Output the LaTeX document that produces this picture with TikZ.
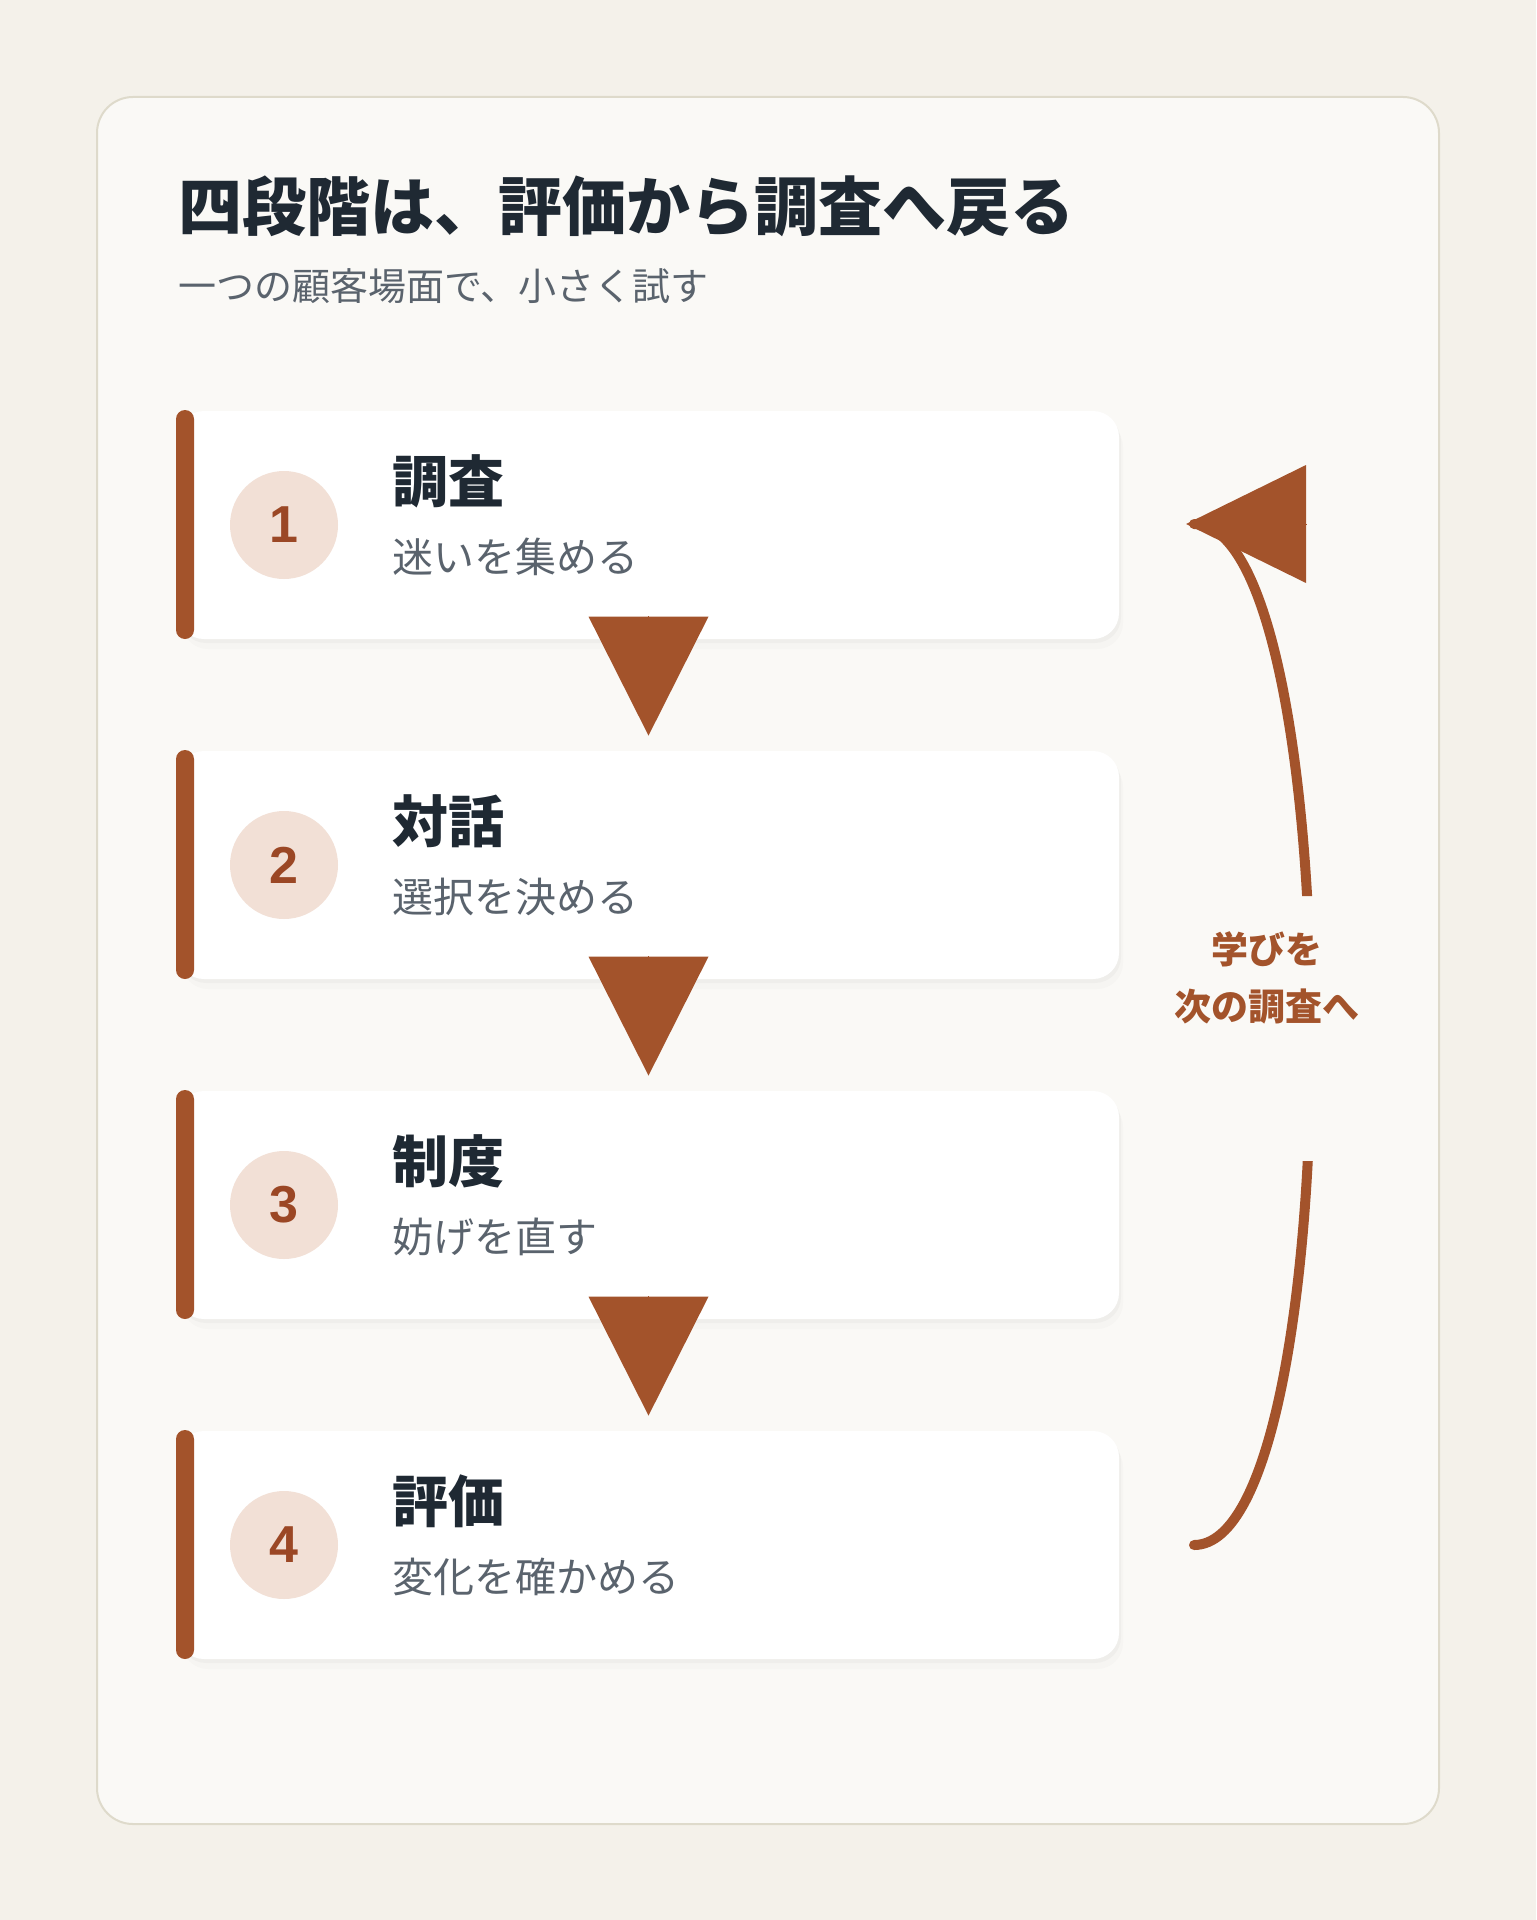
\documentclass[tikz,border=0pt]{standalone}
\usepackage{fontspec}
\setmainfont{Noto Sans CJK JP}
\newfontfamily\numfont{Liberation Sans}
\usepackage{tikz}
\usetikzlibrary{arrows.meta, shadows, positioning}
\definecolor{pagebg}{HTML}{F4F1EA}
\definecolor{cardbg}{HTML}{FAF9F6}
\definecolor{cardline}{HTML}{DEDACB}
\definecolor{accent}{HTML}{A3532B}
\definecolor{numfill}{HTML}{F2E0D6}
\definecolor{numink}{HTML}{9B4725}
\definecolor{ink}{HTML}{1F2933}
\definecolor{muted}{HTML}{5A636D}
\tikzset{
    panel/.style ={draw=cardline, line width=1pt, fill=cardbg, rounded corners=18pt},
    stepcard/.style ={rectangle, fill=white, rounded corners=13pt, inner sep=0pt,
        minimum width=470.5pt, minimum height=114pt,
        drop shadow={shadow xshift=1pt, shadow yshift=-2pt, opacity=.05},
        drop shadow={shadow xshift=2pt, shadow yshift=-5pt, opacity=.03}},
    stepbar/.style ={rectangle, fill=accent, rounded corners=4.5pt, inner sep=0pt,
        minimum width=9pt, minimum height=114.5pt},
    stepnum/.style ={circle, fill=numfill, minimum size=54pt, inner sep=0pt,
        text=numink, font=\numfont\bfseries\fontsize{26}{26}\selectfont},
    stephead/.style ={anchor=west, inner sep=0pt, text=ink,
        font=\bfseries\fontsize{28}{28}\selectfont},
    steptext/.style ={anchor=west, inner sep=0pt, text=muted,
        font=\fontsize{20.5}{20.5}\selectfont},
    flowarrow/.style ={line width=0pt, accent, -{Triangle[length=59.5pt, width=60pt]}},
    backline/.style ={draw=accent, line width=5pt, line cap=round},
    backtip/.style ={line width=0pt, accent, -{Triangle[length=60pt, width=59pt]}},
    backlabel/.style ={align=center, inner sep=0pt, text=accent,
        font=\bfseries\fontsize{18.5}{28.5}\selectfont}
    }

\begin{document}
\begin{tikzpicture}[
      x = 0.5pt, y = -0.5pt, % one unit = one pixel of the 1536x1920 frame
      auto
    ]
    \useasboundingbox (0,0) rectangle (1536,1920);
    \fill[pagebg] (0,0) rectangle (1536,1920);
    \draw[panel] (97,97) rectangle (1439,1824);

    \node[anchor=west, inner sep=0pt, text=ink, font=\bfseries\fontsize{32}{32}\selectfont]
        (title) at (178,206) {四段階は、評価から調査へ戻る};
    \node[anchor=west, inner sep=0pt, text=muted, font=\fontsize{19}{19}\selectfont]
        (subtitle) at (178,286) {一つの顧客場面で、小さく試す};

    \node[stepcard] (c1) at (648.5,525) {};
    \node[stepbar] (b1) at (185,524.5) {};
    \node[stepnum] (n1) at (284,525) {1};
    \node[stephead] (h1) at (392,481) {調査};
    \node[steptext] (s1) at (392,557) {迷いを集める};

    \node[stepcard] (c2) at (648.5,865) {};
    \node[stepbar] (b2) at (185,864.5) {};
    \node[stepnum] (n2) at (284,865) {2};
    \node[stephead] (h2) at (392,821) {対話};
    \node[steptext] (s2) at (392,897) {選択を決める};

    \node[stepcard] (c3) at (648.5,1205) {};
    \node[stepbar] (b3) at (185,1204.5) {};
    \node[stepnum] (n3) at (284,1205) {3};
    \node[stephead] (h3) at (392,1161) {制度};
    \node[steptext] (s3) at (392,1237) {妨げを直す};

    \node[stepcard] (c4) at (648.5,1545) {};
    \node[stepbar] (b4) at (185,1544.5) {};
    \node[stepnum] (n4) at (284,1545) {4};
    \node[stephead] (h4) at (392,1501) {評価};
    \node[steptext] (s4) at (392,1577) {変化を確かめる};

    \draw[flowarrow] ([yshift=11.5pt]c1.south) -- ([yshift=7.5pt]c2.north);
    \draw[flowarrow] ([yshift=11.5pt]c2.south) -- ([yshift=7.5pt]c3.north);
    \draw[flowarrow] ([yshift=11.5pt]c3.south) -- ([yshift=7.5pt]c4.north);

    % return path, broken where the label sits
    \coordinate (l4) at (1194,1545);
    \coordinate (l1) at (1194,524);
    \coordinate (tipback) at (1306,524);
    \coordinate (tip) at (1186,524);
    \begin{scope}
      \clip (1100,300) rectangle (1420,896) (1100,1161) rectangle (1420,1700);
      \draw[backline] (l4) .. controls (1350,1545) and (1350,524) .. (l1);
    \end{scope}
    \draw[backtip] (tipback) -- (tip);
    \node[backlabel] (back) at (1267,978) {学びを\\次の調査へ};
\end{tikzpicture}
\end{document}
